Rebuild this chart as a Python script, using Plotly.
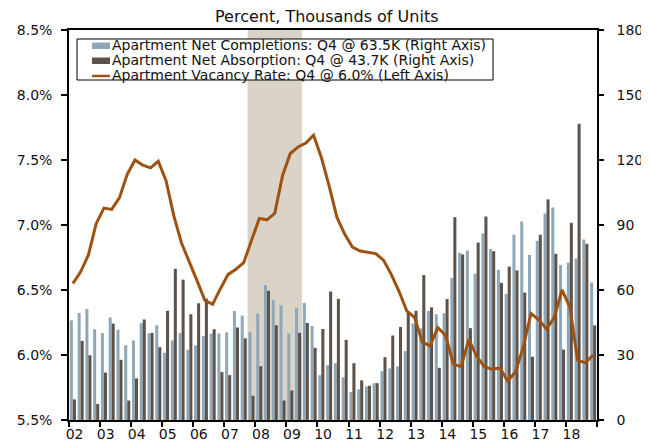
import plotly.graph_objects as go

# Quarterly data, 2002 Q1 .. 2018 Q4
START_YEAR = 2002
YEAR_LABELS = ["02", "03", "04", "05", "06", "07", "08", "09", "10",
               "11", "12", "13", "14", "15", "16", "17", "18"]

# Apartment net completions, thousands of units (right axis)
completions = [
    46.0, 49.4, 51.2, 41.9, 40.1, 47.3, 41.7, 34.5, 36.7, 44.7, 40.0, 43.7,
    31.0, 36.8, 40.1, 32.4, 34.5, 38.8, 39.9, 39.9, 40.4, 50.3, 48.2, 40.6,
    49.1, 62.3, 55.2, 53.0, 39.9, 51.8, 54.0, 43.4, 20.7, 25.3, 26.2, 19.7,
    13.0, 14.2, 15.5, 17.0, 22.5, 23.8, 24.8, 31.8, 44.6, 42.3, 50.3, 48.8,
    49.3, 65.6, 77.2, 78.2, 67.5, 86.2, 79.0, 69.3, 58.2, 85.5, 91.6, 76.2,
    82.7, 95.3, 98.1, 71.5, 72.7, 74.5, 83.3, 63.5,
]

# Apartment net absorption, thousands of units (right axis)
absorption = [
    9.5, 36.5, 29.9, 7.4, 21.9, 44.5, 27.8, 9.0, 19.2, 46.4, 40.2, 33.6,
    50.4, 69.8, 64.8, 48.8, 53.9, 56.0, 41.9, 22.1, 20.7, 42.7, 37.7, 11.2,
    24.8, 59.6, 43.7, 9.0, 13.6, 40.2, 44.8, 33.3, 42.0, 59.3, 55.9, 37.0,
    26.2, 18.3, 15.8, 17.0, 29.0, 39.0, 42.9, 50.0, 50.4, 66.9, 52.0, 24.1,
    55.8, 93.6, 76.4, 42.4, 81.9, 93.9, 77.9, 63.3, 70.8, 69.0, 58.8, 29.2,
    85.5, 101.8, 76.7, 32.5, 91.0, 136.7, 81.3, 43.7,
]

# Apartment vacancy rate, percent (left axis)
vacancy = [
    6.55, 6.64, 6.77, 7.01, 7.13, 7.12, 7.21, 7.39, 7.50, 7.46, 7.44, 7.49,
    7.34, 7.07, 6.86, 6.72, 6.57, 6.42, 6.39, 6.51, 6.62, 6.66, 6.71, 6.88,
    7.05, 7.04, 7.09, 7.38, 7.55, 7.60, 7.63, 7.69, 7.52, 7.30, 7.06, 6.93,
    6.83, 6.80, 6.79, 6.78, 6.73, 6.62, 6.49, 6.34, 6.29, 6.10, 6.07, 6.21,
    6.15, 5.93, 5.91, 6.12, 5.99, 5.91, 5.89, 5.90, 5.80, 5.87, 6.06, 6.32,
    6.27, 6.20, 6.29, 6.50, 6.37, 5.96, 5.94, 6.00,
]

# Recession shading (2007 Q4 - 2009 Q2)
RECESSION = (2007.75, 2009.5)

LEGEND_TEXT = [
    "Apartment Net Completions: Q4 @ 63.5K (Right Axis)",
    "Apartment Net Absorption: Q4 @ 43.7K (Right Axis)",
    "Apartment Vacancy Rate: Q4 @ 6.0% (Left Axis)",
]

LIGHT = "#8EA8BA"
DARK = "#5E5147"
LINE = "#9E5211"
SHADE = "#D9D4C7"
FONT = "DejaVu Sans"

# quarter centres on a numeric year axis
xq = [START_YEAR + (i + 0.5) / 4 for i in range(len(vacancy))]
n_years = len(YEAR_LABELS)

# page body has an 8px margin, so the figure is shrunk by that much
PAGE_PAD = 8
W, H = 649 - PAGE_PAD, 448 - PAGE_PAD
# plot area in screen pixels: x 69..597, y 30..420
L, T = 69 - PAGE_PAD, 30 - PAGE_PAD
R, B = 649 - 597, 448 - 420
PW, PH = 597 - 69, 420 - 30


def px(x):
    return (x - 69) / PW


def py(y):
    return 1 - (y - 30) / PH


fig = go.Figure()

fig.add_trace(go.Bar(x=xq, y=completions, marker_color=LIGHT,
                     marker_line_width=0, yaxis="y", name=LEGEND_TEXT[0]))
fig.add_trace(go.Bar(x=xq, y=absorption, marker_color=DARK,
                     marker_line_width=0, yaxis="y", name=LEGEND_TEXT[1]))
fig.add_trace(go.Scatter(x=xq, y=vacancy, mode="lines", yaxis="y2",
                         line=dict(color=LINE, width=3), name=LEGEND_TEXT[2]))

shapes = [
    dict(type="rect", xref="x", yref="paper", x0=RECESSION[0], x1=RECESSION[1],
         y0=0, y1=1, fillcolor=SHADE, line_width=0, layer="below"),
    # legend box
    dict(type="rect", xref="paper", yref="paper", x0=px(77), x1=px(493),
         y0=py(80), y1=py(39), fillcolor="white",
         line=dict(color="black", width=1), layer="above"),
    dict(type="rect", xref="paper", yref="paper", x0=px(92), x1=px(110),
         y0=py(49), y1=py(42.5), fillcolor=LIGHT, line_width=0, layer="above"),
    dict(type="rect", xref="paper", yref="paper", x0=px(92), x1=px(110),
         y0=py(64), y1=py(57.5), fillcolor=DARK, line_width=0, layer="above"),
    dict(type="line", xref="paper", yref="paper", x0=px(92), x1=px(110),
         y0=py(76), y1=py(76), line=dict(color=LINE, width=2.5), layer="above"),
]

annotations = [
    dict(text="Percent, Thousands of Units", xref="paper", yref="paper",
         x=px(327), y=py(17), xanchor="center", yanchor="middle",
         showarrow=False, borderpad=0,
         font=dict(family=FONT, size=16, color="#111")),
]
for txt, yy in zip(LEGEND_TEXT, [45.5, 60.5, 75]):
    annotations.append(dict(text=txt, xref="paper", yref="paper",
                            x=px(111), y=py(yy), xanchor="left",
                            yanchor="middle", showarrow=False, borderpad=0,
                            font=dict(family=FONT, size=14, color="#111")))

fig.update_layout(
    width=W, height=H,
    margin=dict(l=L, r=R, t=T, b=B, autoexpand=False),
    plot_bgcolor="white", paper_bgcolor="white",
    barmode="group", bargap=0.22, bargroupgap=0,
    showlegend=False,
    font=dict(family=FONT, size=14, color="#111"),
    shapes=shapes,
    annotations=annotations,
    xaxis=dict(
        range=[START_YEAR, START_YEAR + n_years], automargin=False,
        tickvals=[START_YEAR + k + 0.18 for k in range(n_years)],
        ticktext=YEAR_LABELS, ticks="",
        showline=True, linecolor="black", linewidth=1.5, mirror=True,
        showgrid=False, zeroline=False,
        minor=dict(tickvals=[START_YEAR + k for k in range(n_years + 1)],
                   ticks="outside", ticklen=5, tickcolor="black", tickwidth=1.5),
    ),
    yaxis=dict(
        range=[0, 180], dtick=30, side="right", automargin=False,
        ticks="outside", ticklen=5, tickcolor="black", tickwidth=1.5,
        showline=True, linecolor="black", linewidth=1.5,
        showgrid=False, zeroline=False, ticklabelstandoff=10,
    ),
    yaxis2=dict(
        range=[5.5, 8.5], dtick=0.5, side="left", overlaying="y",
        automargin=False,
        tickformat=".1f", ticksuffix="%",
        ticks="outside", ticklen=6, tickcolor="black", tickwidth=1.5,
        showline=True, linecolor="black", linewidth=1.5,
        showgrid=False, zeroline=False, ticklabelstandoff=6,
    ),
)

fig.write_html("out.html")
